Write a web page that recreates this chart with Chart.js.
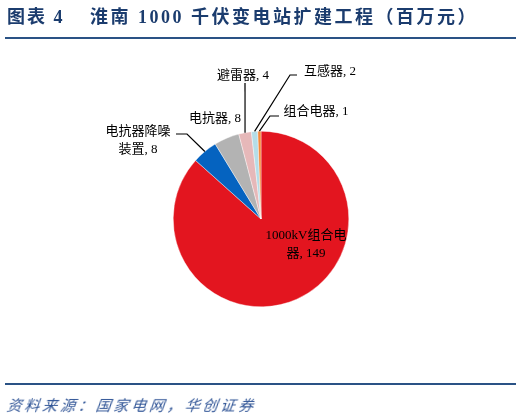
<!DOCTYPE html>
<html>
<head>
<meta charset="utf-8">
<script src="https://cdn.jsdelivr.net/npm/chart.js@4.4.0/dist/chart.umd.min.js"></script>
<style>
html,body{margin:0;padding:0;background:#fff;}
#wrap{position:relative;width:524px;height:418px;overflow:hidden;}
#c{position:absolute;left:0;top:0;}
.title{position:absolute;top:5px;font-family:"Liberation Serif","Noto Sans CJK SC",serif;font-weight:bold;font-size:18px;letter-spacing:2.5px;color:#1B3C6E;white-space:nowrap;line-height:24px;}
.rule{position:absolute;left:5px;width:511px;height:2px;background:#2A5285;}
.src{position:absolute;left:7px;top:394px;font-family:"Noto Sans CJK SC",sans-serif;font-style:italic;font-size:15px;letter-spacing:2.8px;color:#2F5496;white-space:nowrap;line-height:22px;transform:skewX(-8deg);}
</style>
</head>
<body>
<div id="wrap">
<canvas id="c" width="524" height="418"></canvas>
<div class="title" style="left:7px;letter-spacing:2px;">图表 4</div>
<div class="title" style="left:90px;">淮南 1000 千伏变电站扩建工程（百万元）</div>
<div class="rule" style="top:37px;"></div>
<div class="rule" style="top:383px;"></div>
<div class="src">资料来源：国家电网，华创证券</div>
</div>
<script>
const categories = ["1000kV组合电器", "电抗器降噪装置", "电抗器", "避雷器", "互感器", "组合电器"];
const values = [149, 8, 8, 4, 2, 1];
const colors = ["#E3151F", "#0563C0", "#B3B3B3", "#E6B8B9", "#B5DDE8", "#F5873A"];

// label layout: lines of text, text anchor, leader path (from text side to slice edge)
const labelLayout = [
  {lines: ["1000kV组合电", "器, 149"], x: 306, y: 236, leader: null},
  {lines: ["电抗器降噪", "装置, 8"], x: 138, y: 132, leader: [[176, 134], [187, 134]]},
  {lines: ["电抗器, 8"], x: 215, y: 119, leader: null},
  {lines: ["避雷器, 4"], x: 243, y: 76, leader: [[245, 83]]},
  {lines: ["互感器, 2"], x: 330, y: 72, leader: [[297, 75], [290, 75]]},
  {lines: ["组合电器, 1"], x: 316, y: 112, leader: [[279, 116], [270, 116]]}
];

const labelPlugin = {
  id: 'pieLabels',
  afterDatasetsDraw(chart) {
    const ctx = chart.ctx;
    const meta = chart.getDatasetMeta(0);
    ctx.save();
    ctx.font = '13px "Liberation Serif", "Noto Sans CJK SC", serif';
    ctx.fillStyle = '#000';
    ctx.textAlign = 'center';
    ctx.textBaseline = 'middle';
    meta.data.forEach((arc, i) => {
      const L = labelLayout[i];
      const p = arc.getProps(['x', 'y', 'startAngle', 'endAngle', 'outerRadius'], true);
      const mid = (p.startAngle + p.endAngle) / 2;
      const ex = p.x + Math.cos(mid) * p.outerRadius;
      const ey = p.y + Math.sin(mid) * p.outerRadius;
      if (L.leader) {
        ctx.beginPath();
        ctx.strokeStyle = '#000';
        ctx.lineWidth = 1.2;
        ctx.moveTo(L.leader[0][0], L.leader[0][1]);
        for (let k = 1; k < L.leader.length; k++) ctx.lineTo(L.leader[k][0], L.leader[k][1]);
        ctx.lineTo(ex, ey);
        ctx.stroke();
      }
      L.lines.forEach((t, j) => {
        ctx.fillText(t, L.x, L.y + j * 18);
      });
    });
    ctx.restore();
  }
};

new Chart(document.getElementById('c'), {
  type: 'pie',
  data: {
    labels: categories,
    datasets: [{
      data: values,
      backgroundColor: colors,
      borderColor: '#ffffff',
      borderWidth: 0.4
    }]
  },
  options: {
    responsive: false,
    animation: false,
    layout: {padding: {left: 173, right: 175, top: 131, bottom: 111}},
    plugins: {legend: {display: false}, tooltip: {enabled: false}, title: {display: false}}
  },
  plugins: [labelPlugin]
});
</script>
</body>
</html>
